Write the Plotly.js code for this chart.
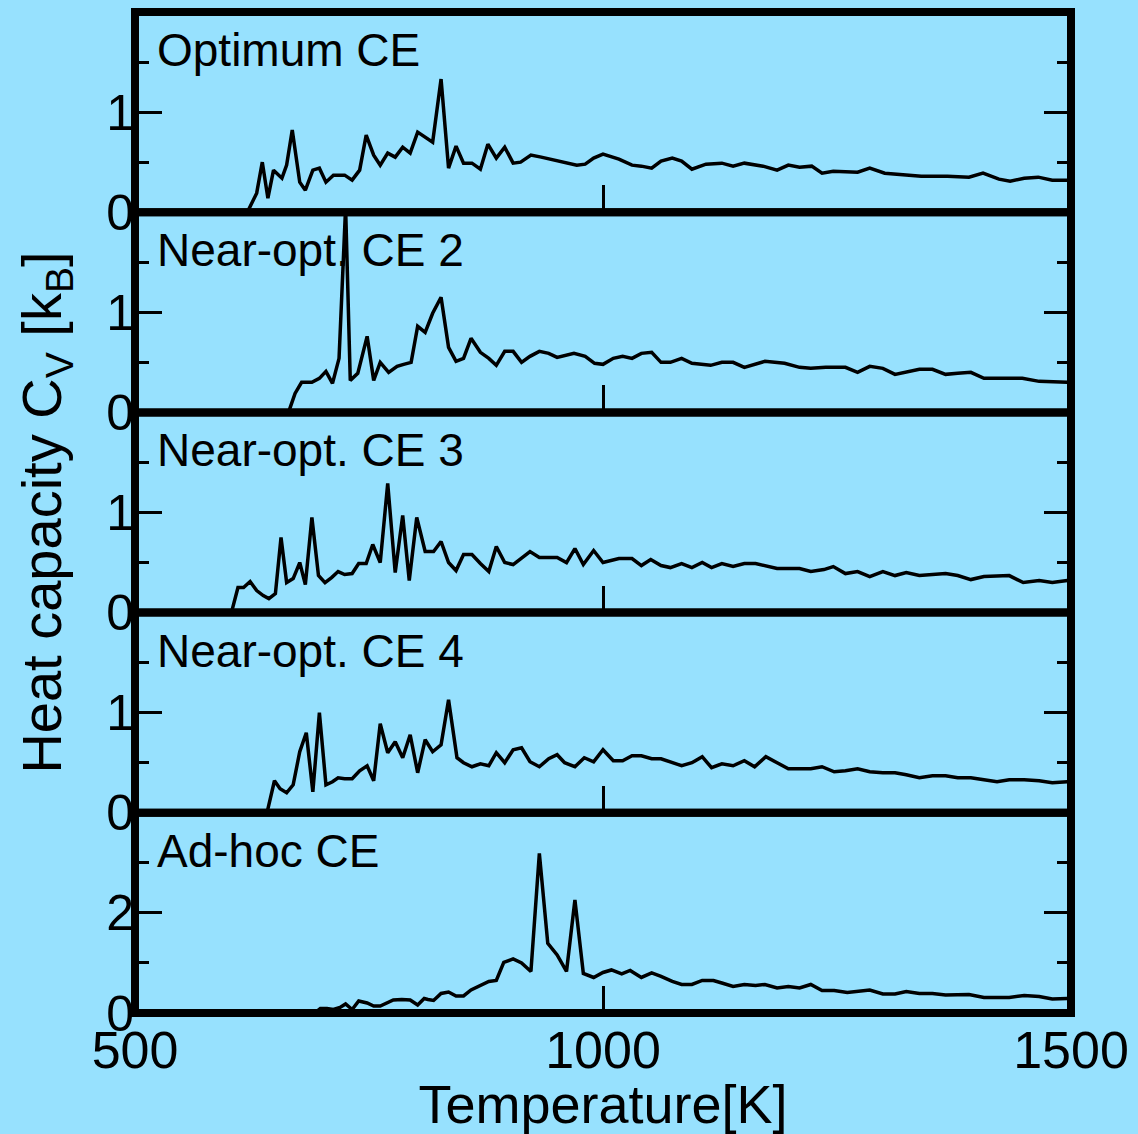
<!DOCTYPE html>
<html>
<head>
<meta charset="utf-8">
<script src="https://cdn.plot.ly/plotly-3.0.1.min.js"></script>
<style>html,body{margin:0;padding:0;background:#97e1fe;}#chart{width:1138px;height:1134px;}</style>
</head>
<body>
<div id="chart"></div>
<script>
// ---- data ----
const panelLabels = ['Optimum CE', 'Near-opt. CE 2', 'Near-opt. CE 3', 'Near-opt. CE 4', 'Ad-hoc CE'];

const tOpt = [620,630,636,642,648,657,662,668,676,682, 690,697,704,712,724,732,740,747,755,762, 770,778,786,794,802,810,818,827,835,843, 851,860,869,877,886,895,904,912,923,934, 947,959,972,981,990,1000,1017,1031,1041,1052, 1062,1074,1084,1095,1110,1127,1139,1151,1171,1186, 1198,1210,1223,1234,1246,1272,1285,1301,1316,1340, 1368,1391,1406,1423,1435,1450,1465,1480,1496];
const cvOpt = [0,0.19,0.50,0.14,0.42,0.34,0.47,0.82,0.30,0.22, 0.42,0.44,0.30,0.37,0.37,0.32,0.42,0.77,0.57,0.47, 0.59,0.55,0.65,0.59,0.80,0.75,0.70,1.33,0.44,0.66, 0.49,0.49,0.43,0.68,0.54,0.65,0.49,0.50,0.57,0.55, 0.52,0.50,0.47,0.48,0.54,0.58,0.53,0.47,0.46,0.44, 0.51,0.54,0.51,0.43,0.48,0.49,0.46,0.49,0.46,0.42, 0.47,0.45,0.46,0.39,0.41,0.40,0.44,0.39,0.38,0.36, 0.36,0.35,0.39,0.33,0.31,0.34,0.35,0.32,0.32];

const tNear2 = [664,671,678,689,697,704,711,718,725,730, 738,748,755,762,771,780,787,795,802,810, 818,827,835,843,851,859,869,878,886,895, 904,913,922,932,942,951,969,981,991,1000, 1011,1021,1031,1041,1052,1062,1072,1084,1095,1115, 1127,1139,1151,1173,1194,1210,1222,1238,1259,1272, 1285,1299,1312,1324,1338,1352,1366,1379,1393,1407, 1427,1448,1466,1482,1496];
const cvNear2 = [0,0.19,0.30,0.30,0.34,0.41,0.29,0.54,2.05,0.32, 0.39,0.76,0.32,0.50,0.40,0.46,0.48,0.50,0.86,0.80, 0.99,1.15,0.65,0.51,0.54,0.74,0.60,0.54,0.47,0.61, 0.61,0.50,0.56,0.61,0.59,0.55,0.59,0.56,0.49,0.48, 0.54,0.56,0.54,0.59,0.60,0.50,0.50,0.54,0.49,0.47, 0.50,0.50,0.45,0.51,0.49,0.45,0.44,0.45,0.45,0.40, 0.46,0.44,0.38,0.40,0.43,0.43,0.38,0.39,0.40,0.34, 0.34,0.34,0.31,0.30,0.30];

const tNear3 = [603,610,616,623,630,637,643,650,656,662, 669,676,682,689,696,703,710,717,724,732, 739,747,754,762,770,778,786,793,801,810, 819,827,835,843,851,860,869,878,886,895, 904,913,922,932,942,951,961,970,979,990, 1000,1017,1031,1041,1051,1062,1072,1084,1095,1106, 1116,1127,1139,1151,1163,1186,1210,1222,1236,1246, 1259,1272,1285,1299,1312,1324,1338,1352,1366,1379, 1393,1407,1434,1449,1466,1480,1496];
const cvNear3 = [0,0.25,0.25,0.31,0.22,0.17,0.14,0.19,0.75,0.30, 0.34,0.50,0.28,0.95,0.37,0.30,0.35,0.41,0.38,0.39, 0.49,0.49,0.68,0.50,1.29,0.40,0.97,0.32,0.95,0.61, 0.61,0.71,0.50,0.42,0.58,0.58,0.49,0.41,0.66,0.50, 0.48,0.54,0.61,0.55,0.55,0.55,0.50,0.64,0.48,0.62, 0.50,0.54,0.54,0.47,0.53,0.47,0.45,0.49,0.45,0.50, 0.45,0.49,0.46,0.49,0.49,0.44,0.44,0.41,0.43,0.46, 0.39,0.41,0.36,0.41,0.37,0.40,0.37,0.38,0.39,0.37, 0.33,0.36,0.37,0.30,0.32,0.30,0.32];

const tNear4 = [641,649,655,662,669,676,683,690,697,704, 711,717,724,732,740,748,755,762,770,778, 786,794,802,810,818,827,835,844,851,860, 869,878,886,895,904,913,922,932,942,951, 959,970,980,990,1000,1011,1021,1031,1041,1052, 1062,1072,1084,1095,1106,1116,1127,1139,1151,1162, 1174,1186,1198,1222,1234,1247,1259,1272,1285,1299, 1312,1324,1338,1352,1366,1379,1393,1407,1421,1434, 1450,1466,1480,1496];
const cvNear4 = [0,0.32,0.24,0.20,0.28,0.61,0.80,0.21,1.00,0.28, 0.31,0.35,0.34,0.34,0.42,0.47,0.32,0.89,0.60,0.71, 0.55,0.78,0.40,0.73,0.61,0.68,1.13,0.55,0.50,0.46, 0.49,0.47,0.60,0.50,0.63,0.65,0.51,0.46,0.54,0.58, 0.50,0.46,0.55,0.51,0.63,0.52,0.52,0.57,0.57,0.54, 0.54,0.51,0.47,0.50,0.56,0.45,0.49,0.47,0.52,0.46, 0.56,0.50,0.44,0.44,0.46,0.41,0.42,0.44,0.41,0.40, 0.40,0.38,0.35,0.37,0.37,0.35,0.35,0.33,0.31,0.33, 0.33,0.32,0.30,0.31];

const tAdhoc = [692,698,705,712,719,725,732,739,748,755, 762,769,776,785,794,802,809,813,819,827, 835,843,851,859,869,878,886,894,904,913, 923,932,941,951,961,970,979,990,1000,1009, 1020,1029,1041,1052,1062,1074,1084,1095,1106,1118, 1127,1139,1151,1163,1173,1186,1198,1210,1222,1234, 1247,1261,1285,1299,1312,1324,1338,1352,1366,1391, 1407,1434,1450,1466,1480,1496];
const cvAdhoc = [0,0.09,0.09,0.07,0.11,0.18,0.07,0.24,0.20,0.14, 0.14,0.20,0.26,0.27,0.26,0.16,0.29,0.27,0.25,0.39, 0.42,0.34,0.34,0.46,0.54,0.63,0.65,1.01,1.08,1.00, 0.83,3.19,1.39,1.16,0.83,2.26,0.79,0.71,0.81,0.86, 0.78,0.85,0.71,0.80,0.73,0.63,0.57,0.57,0.65,0.65, 0.60,0.53,0.57,0.55,0.57,0.50,0.53,0.50,0.57,0.45, 0.45,0.41,0.46,0.38,0.38,0.43,0.39,0.39,0.36,0.37, 0.31,0.31,0.35,0.33,0.28,0.29];

const yMax = [2, 2, 2, 2, 4];
const yMajorTicks = [[0,1],[0,1],[0,1],[0,1],[0,2]];
const yMinorTicks = [[0.5,1.5],[0.5,1.5],[0.5,1.5],[0.5,1.5],[1,3]];
const xTickVals = [500, 1000, 1500];
const xRange = [500, 1500];

// ---- build ----
const seriesT = [tOpt, tNear2, tNear3, tNear4, tAdhoc];
const seriesV = [cvOpt, cvNear2, cvNear3, cvNear4, cvAdhoc];

const BG = '#97e1fe';
const FONT = '"Liberation Sans", Arial, Helvetica, sans-serif';
const traces = [];
const layout = {
  width: 1138, height: 1134,
  margin: {l: 135, r: 67, t: 12, b: 121, pad: 0},
  paper_bgcolor: BG, plot_bgcolor: BG,
  font: {family: FONT, color: '#000', size: 50},
  showlegend: false,
  annotations: [], shapes: []
};

for (let i = 0; i < 5; i++) {
  const n = i + 1;
  const xs = n === 1 ? '' : String(n);
  const top = 1 - i * 0.2, bot = 1 - (i + 1) * 0.2;
  traces.push({
    type: 'scatter', mode: 'lines',
    x: seriesT[i], y: seriesV[i],
    xaxis: 'x' + xs, yaxis: 'y' + xs,
    line: {color: '#000', width: 3.5}, hoverinfo: 'skip'
  });
  const last = i === 4;
  const xa = {
    domain: [0, 1], range: xRange, anchor: 'y' + xs,
    showline: false, showgrid: false, zeroline: false,
    ticks: 'inside', ticklen: 27, tickwidth: 3, tickcolor: '#000',
    tickmode: 'array', tickvals: last ? xTickVals : [1000],
    showticklabels: last,
    tickfont: {size: 52, family: FONT},
    ticklabelstandoff: 2
  };
  if (last) xa.title = {text: 'Temperature[K]', font: {size: 54, family: FONT}, standoff: 12};
  layout['xaxis' + xs] = xa;
  const ya = {
    domain: [bot, top], range: [0, yMax[i]], anchor: 'x' + xs,
    showline: false, showgrid: false, zeroline: false,
    mirror: 'ticks',
    ticks: 'inside', ticklen: 27, tickwidth: 3, tickcolor: '#000',
    tickmode: 'array', tickvals: yMajorTicks[i], ticktext: yMajorTicks[i].map(String),
    minor: {ticks: 'inside', ticklen: 14, tickwidth: 3, tickcolor: '#000', tickmode: 'array', tickvals: yMinorTicks[i], showgrid: false},
    tickfont: {size: 50, family: FONT},
    ticklabelstandoff: 0
  };
  if (i === 2) ya.title = {text: 'Heat capacity C<sub>V</sub> [k<sub>B</sub>]', font: {size: 56, family: FONT}, standoff: 26};
  layout['yaxis' + xs] = ya;
  layout.annotations.push({
    text: panelLabels[i], xref: 'x' + xs + ' domain', yref: 'y' + xs + ' domain',
    x: 0.021, y: 0.81, xanchor: 'left', yanchor: 'middle', showarrow: false,
    font: {size: 46, family: FONT, color: '#000'}
  });
  layout.shapes.push({
    type: 'rect', xref: 'paper', yref: 'paper', x0: 0, x1: 1, y0: bot, y1: top,
    line: {color: '#000', width: 8}, fillcolor: 'rgba(0,0,0,0)', layer: 'above'
  });
}

Plotly.newPlot('chart', traces, layout, {displayModeBar: false, staticPlot: true});
</script>
</body>
</html>
